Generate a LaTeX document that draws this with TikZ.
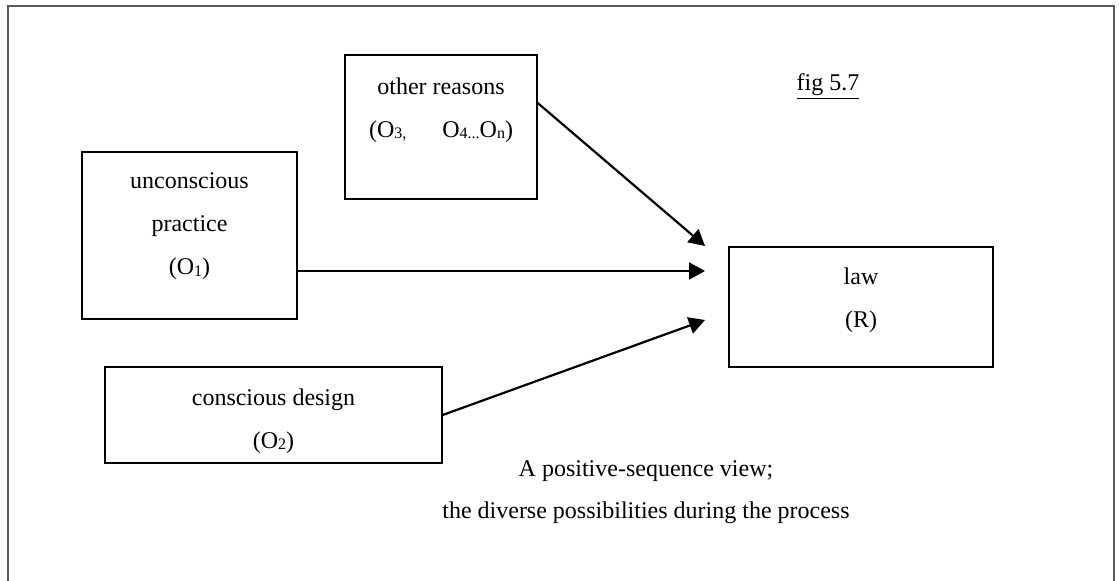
\documentclass[tikz,border=0pt]{standalone}
\usepackage{fontspec}
\setmainfont{Liberation Serif}
\usetikzlibrary{arrows.meta, positioning}
\newcommand{\osub}[1]{\raisebox{-0.15ex}{\footnotesize #1}}
\tikzstyle{cause} = [rectangle, draw=black, line width=0.7pt]
\tikzstyle{boxtext} = [align=center, inner sep=0pt, font=\fontsize{12pt}{21.5pt}\selectfont]
\tikzstyle{frame} = [line width=0.8pt, draw=black!65]
\tikzstyle{arrow} = [line width=1.1pt, -{Triangle[length=8pt, width=8.5pt]}]

\begin{document}
\begin{tikzpicture}[x=0.5pt, y=-0.5pt]
    \useasboundingbox (0,0) rectangle (1119,581);
    \draw [frame] (8,581) -- (8,6) -- (1114,6) -- (1114,581);

    \node (others) [cause, minimum width=96pt, minimum height=72pt] at (441,127) {};
    \node (practice) [cause, minimum width=107.5pt, minimum height=83.5pt] at (189.5,235.5) {};
    \node (design) [cause, minimum width=168.5pt, minimum height=48pt] at (273.5,415) {};
    \node (law) [cause, minimum width=132pt, minimum height=60pt] at (861,307) {};

    \node (others_text) [boxtext, yshift=8.5pt] at (others) {other reasons\\(O\osub{3,}\hspace{1.5em}O\osub{4...}O\osub{n})};
    \node (practice_text) [boxtext, yshift=4.75pt] at (practice) {unconscious\\practice\\(O\osub{1})};
    \node (design_text) [boxtext, yshift=-3pt] at (design) {conscious design\\(O\osub{2})};
    \node (law_text) [boxtext, yshift=3.5pt] at (law) {law\\(R)};

    \node (fig_label) [boxtext] at (828,87) {\underline{fig 5.7}};
    \node (caption) [boxtext, font=\fontsize{12pt}{21pt}\selectfont] at (646,492) {A positive-sequence view;\\the diverse possibilities during the process};

    \coordinate (tip_top) at (705,246);
    \coordinate (tip_mid) at (705,271);
    \coordinate (tip_low) at (705,320);

    \draw [arrow] ([yshift=12pt]others.east) -- (tip_top);
    \draw [arrow] ([yshift=-17.75pt]practice.east) -- (tip_mid);
    \draw [arrow] (design.east) -- (tip_low);
\end{tikzpicture}
\end{document}
